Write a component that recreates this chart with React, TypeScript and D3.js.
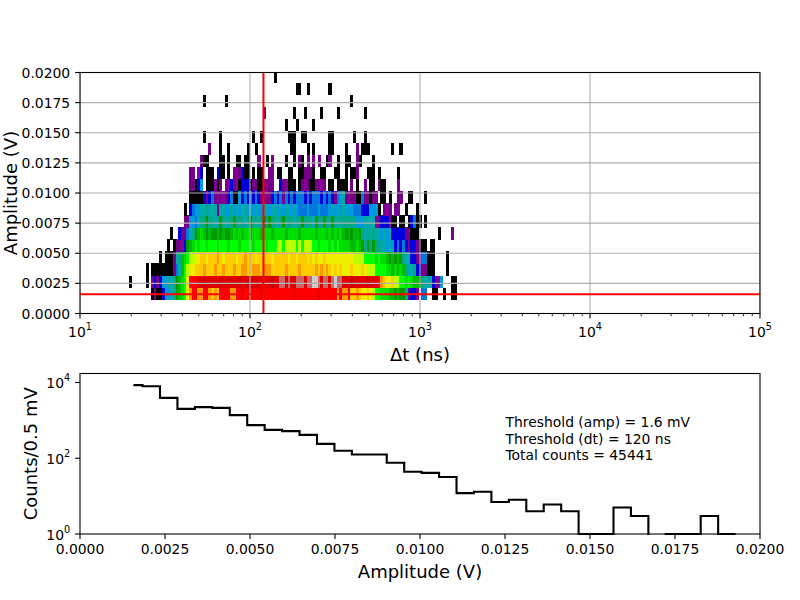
import * as d3 from "d3";

type Seg = [number, string];

// thresholds drawn as red lines
const ampThreshold = 0.0016; // V
const dtThreshold = 120; // ns

// 2D histogram: dt bins are uniform in log10(dt), first column starts at dtLogStart
const dtLogStart = 1.273;
const dtLogStep = 0.016064;
const ampEdges2d = [
  0.00115, 0.00215, 0.00315, 0.00415, 0.00515, 0.00615, 0.00715, 0.00815, 0.00915, 0.01015,
  0.01115, 0.01215, 0.01315, 0.01415, 0.01515, 0.01615, 0.01715, 0.01815, 0.01915, 0.02015,
];

// colour level of every cell (nipy_spectral, log counts), bottom row first
// '.' empty, '0'..'j' = level 0..19 (x0.05), 'k' = 0.975, 'l' = 1 (max)
const row00: Seg[] = [[9, "0100466789"], [19, "abc"], [22, "eghhgghhgf"], [32, "gfhhhhgg"], [40, "hhihhhhhhi"], [50, "hhhhhhhhhh"], [60, "hihhhhhhhh"], [70, "ihhhhhh"], [77, "ghggh"], [82, "ffgfeefed"], [91, "ccbbbaa9a9"], [101, "9"], [102, "81441.55"], [112, "00"], [116, "0"], [119, "00"]];
const row01: Seg[] = [[1, "0"], [7, "0"], [9, "1414667789"], [19, "abce"], [23, "hhhiijiiii"], [33, "ijiiiiiiii"], [43, "ijiiiiiiii"], [53, "ji"], [55, "ikkikiikkk"], [65, "ikkllkikki"], [75, "klkki"], [80, "iijiiiiijii"], [91, "ihgfeefddc"], [101, "cbcbaa9878"], [111, "7412"], [115, "6"], [119, "00"]];
const row02: Seg[] = [[7, "0"], [9, "00000000"], [17, "157acdee"], [25, "fffgfffgff"], [35, "gfffgffggf"], [45, "fgggfgggff"], [55, "fffgffffgf"], [65, "ffffgfgfgf"], [75, "efefe"], [80, "eefeeefedd"], [90, "d"], [91, "ccccbbabab"], [101, "a8778441100"], [112, "0"], [117, "0"]];
const row03: Seg[] = [[12, "0"], [14, "000"], [17, "178abcddee"], [27, "ffefffgfef"], [37, "fffeffgfff"], [47, "efffffefff"], [57, "ffeffefffe"], [67, "fefeefeee"], [76, "eeeeeee"], [83, "dddd"], [87, "ccc"], [90, "cbcbba9a9a"], [100, "9877441155"], [110, "000"], [117, "0"]];
const row04: Seg[] = [[15, "0"], [17, "01124"], [22, "9ab"], [25, "cbccbcccbc"], [35, "ccbcccbccc"], [45, "cbccccbccc"], [55, "ddcddddcdc"], [65, "dddccbcccb"], [75, "cbcbb"], [80, "bbaaba9898"], [90, "9887767645"], [100, "4541441000"], [111, "00"]];
const row05: Seg[] = [[16, "0"], [19, "411578"], [25, "9a"], [27, "ba9a99a9a9"], [37, "9abababbab"], [47, "bbabbbabbb"], [57, "babbbbabbb"], [67, "bbabbbabab"], [77, "aba"], [80, "9a9aa98787"], [90, "8776767444"], [100, "4411000"], [114, "0"], [119, "1"]];
const row06: Seg[] = [[21, "1166578898"], [31, "8789878898"], [41, "8878988789"], [51, "8988789888"], [61, "7889888798"], [71, "898898788"], [80, "8888666777"], [90, "721444200."], [100, "00.04500.0"]];
const row07: Seg[] = [[21, "0"], [23, "4566778777"], [33, "1776"], [37, "6767677676"], [47, "7667767767"], [57, "6776765556"], [67, "5556555676"], [77, "767"], [80, "6665554446"], [90, "660.121.11"], [102, "0"], [106, "0"]];
const row08: Seg[] = [[23, "0000041451"], [33, "2121450064"], [43, "5454541211"], [53, "4545154545"], [63, "5545455545"], [73, "4541567"], [80, "1211005110"], [90, "11.00.0..1"], [100, "1..00....0"]];
const row09: Seg[] = [[23, "11046.0002"], [33, "01.1241204"], [43, "4401100121"], [53, "1..412000."], [63, "0121001121"], [73, ".00.000"], [80, "0.1.0..1.0"], [90, "0.100....1"]];
const row10: Seg[] = [[23, "11.24.000."], [33, "400.0.1214"], [43, "00.0.00..1"], [53, "1.00..00.."], [63, "001110..00"], [73, "...00.."], [80, "0.001...00"], [90, "0.0......0"]];
const row11: Seg[] = [[27, "100....00."], [37, "0..00.00.."], [47, ".1..0.1..."], [57, ".0..0.10.1"], [67, ".1.1..01.."], [77, "0..00..10."], [87, "...0"]];
const row12: Seg[] = [[30, "1"], [34, "0"], [37, "0"], [44, "0"], [47, "0"], [60, "00"], [66, "0"], [68, "0"], [74, "00"], [80, "0"], [84, "1"], [86, "000"], [97, "0"], [100, "0"]];
const row13: Seg[] = [[28, "0"], [34, "0"], [46, "0"], [49, "0"], [59, "000"], [64, "00"], [74, "00"], [83, "0"], [87, "0"]];
const row14: Seg[] = [[58, "0"], [62, "0"], [68, "0"]];
const row15: Seg[] = [[50, "1"], [61, "0"], [65, "0"], [71, "0"], [77, "0"], [87, "0"]];
const row16: Seg[] = [[28, "0"], [36, "0"], [82, "0"]];
const row17: Seg[] = [[62, "00"], [66, "0"], [74, "0"]];
const row18: Seg[] = [[54, "0"]];
const histRows = [row00, row01, row02, row03, row04, row05, row06, row07, row08, row09, row10, row11, row12, row13, row14, row15, row16, row17, row18];

// 1D amplitude histogram
const ampEdges = [
  0.00157, 0.00184, 0.002353, 0.002866, 0.003379, 0.003892, 0.004405, 0.004918, 0.005431, 0.005944,
  0.006457, 0.00697, 0.007483, 0.007996, 0.008509, 0.009022, 0.009535, 0.010048, 0.010561, 0.011074,
  0.011587, 0.0121, 0.012613, 0.013126, 0.013639, 0.014152, 0.014665, 0.015178, 0.015691, 0.016204,
  0.016717, 0.01723, 0.017743, 0.018256, 0.018769, 0.019282,
];
const ampCounts = [
  8490, 7980, 3930, 2014, 2230, 2140, 1371, 747, 562, 519,
  414, 240, 157, 126, 126, 76, 44, 41, 32, 12,
  13, 7, 8, 4, 6, 4, 1, 1, 5, 3,
  0, 1, 1, 3, 1,
];

const ampTicks = [0, 0.0025, 0.005, 0.0075, 0.01, 0.0125, 0.015, 0.0175, 0.02];
const dtMajorTicks = [10, 100, 1000, 10000, 100000];
const countTicks = [1, 100, 10000];
const infoLines = ["Threshold (amp) = 1.6 mV", "Threshold (dt) = 120 ns", "Total counts = 45441"];

// nipy_spectral colour stops
const spectralStops = [
  "#000000", "#770088", "#880099", "#0000aa", "#0000dd", "#0077dd", "#0099dd", "#00aaaa", "#00aa88", "#009900",
  "#00bb00", "#00dd00", "#00ff00", "#bbff00", "#eeee00", "#ffcc00", "#ff9900", "#ff0000", "#dd0000", "#cc0000", "#cccccc",
];
const spectral = d3.piecewise(d3.interpolateRgb, spectralStops);
const levelChars = "0123456789abcdefghij";
const levelT = (ch: string) => (ch === "k" ? 0.975 : ch === "l" ? 1 : levelChars.indexOf(ch) / 20);

const font = "DejaVu Sans";
const tickFs = 13.9;
const labelFs = 18;
const TL = 4.9; // tick length

export default function App() {
  const topBox = { l: 80, r: 760, t: 72.5, b: 313.5 };
  const botBox = { l: 80, r: 760, t: 373.5, b: 534 };

  const xDt = d3.scaleLog().domain([10, 1e5]).range([topBox.l, topBox.r]);
  const yAmp = d3.scaleLinear().domain([0, 0.02]).range([topBox.b, topBox.t]);
  const xAmp = d3.scaleLinear().domain([0, 0.02]).range([botBox.l, botBox.r]);
  const yCnt = d3.scaleLog().domain([1, 17260]).range([botBox.b, botBox.t]);

  const cells: { x0: number; x1: number; y0: number; y1: number; fill: string }[] = [];
  histRows.forEach((segs, r) => {
    segs.forEach(([start, codes]) => {
      codes.split("").forEach((ch, j) => {
        if (ch === ".") return;
        const col = start + j;
        const lo = Math.pow(10, dtLogStart + col * dtLogStep);
        const hi = Math.pow(10, dtLogStart + (col + 1) * dtLogStep);
        cells.push({
          x0: xDt(lo),
          x1: xDt(hi),
          y0: yAmp(ampEdges2d[r + 1]),
          y1: yAmp(ampEdges2d[r]),
          fill: spectral(levelT(ch)),
        });
      });
    });
  });

  const minorDt: number[] = [];
  for (let k = 1; k < 5; k++) for (let m = 2; m < 10; m++) minorDt.push(m * Math.pow(10, k));

  const stepPts: [number, number][] = [];
  ampCounts.forEach((c, i) => {
    const v = c > 0 ? c : 0.01;
    stepPts.push([xAmp(ampEdges[i]), yCnt(v)]);
    stepPts.push([xAmp(ampEdges[i + 1]), yCnt(v)]);
  });
  const stepPath = d3.line()(stepPts) as string;

  const gridColor = "#b0b0b0";

  return (
    <svg
      width={800}
      height={600}
      style={{ position: "absolute", left: 0, top: 0, background: "#fff" }}
      fontFamily={font}
    >
      <defs>
        <clipPath id="clipTop">
          <rect x={topBox.l} y={topBox.t} width={topBox.r - topBox.l} height={topBox.b - topBox.t} />
        </clipPath>
        <clipPath id="clipBot">
          <rect x={botBox.l} y={botBox.t} width={botBox.r - botBox.l} height={botBox.b - botBox.t + 1} />
        </clipPath>
      </defs>
      <rect width={800} height={600} fill="#fff" />

      {/* ---------- top: 2D histogram ---------- */}
      <g clipPath="url(#clipTop)">
        <g shapeRendering="crispEdges">
          {cells.map((c, i) => (
            <rect key={i} x={c.x0} y={c.y0} width={c.x1 - c.x0 + 0.3} height={c.y1 - c.y0 + 0.3} fill={c.fill} />
          ))}
        </g>
        {ampTicks.map((t) => (
          <line key={"gy" + t} x1={topBox.l} x2={topBox.r} y1={yAmp(t)} y2={yAmp(t)} stroke={gridColor} strokeWidth={1.1} />
        ))}
        {dtMajorTicks.map((t) => (
          <line key={"gx" + t} x1={xDt(t)} x2={xDt(t)} y1={topBox.t} y2={topBox.b} stroke={gridColor} strokeWidth={1.1} />
        ))}
        <line x1={topBox.l} x2={topBox.r} y1={yAmp(ampThreshold)} y2={yAmp(ampThreshold)} stroke="#ff0000" strokeWidth={2} />
        <line x1={xDt(dtThreshold)} x2={xDt(dtThreshold)} y1={topBox.t} y2={topBox.b} stroke="#ff0000" strokeWidth={2} />
      </g>
      <rect x={topBox.l} y={topBox.t} width={topBox.r - topBox.l} height={topBox.b - topBox.t} fill="none" stroke="#000" strokeWidth={1.1} />

      {ampTicks.map((t) => (
        <g key={"ty" + t}>
          <line x1={topBox.l - TL} x2={topBox.l} y1={yAmp(t)} y2={yAmp(t)} stroke="#000" strokeWidth={1.1} />
          <text x={topBox.l - 2 * TL} y={yAmp(t)} dy="0.36em" textAnchor="end" fontSize={tickFs}>
            {t.toFixed(4)}
          </text>
        </g>
      ))}
      {minorDt.map((t) => (
        <line key={"mx" + t} x1={xDt(t)} x2={xDt(t)} y1={topBox.b} y2={topBox.b + 2.8} stroke="#000" strokeWidth={0.8} />
      ))}
      {dtMajorTicks.map((t) => (
        <g key={"tx" + t}>
          <line x1={xDt(t)} x2={xDt(t)} y1={topBox.b} y2={topBox.b + TL} stroke="#000" strokeWidth={1.1} />
          <text x={xDt(t)} y={337} textAnchor="middle" fontSize={tickFs}>
            <tspan>10</tspan>
            <tspan dy={-6.7} fontSize={9.7}>{Math.round(Math.log10(t))}</tspan>
          </text>
        </g>
      ))}
      <text x={420} y={361} textAnchor="middle" fontSize={labelFs}>Δt (ns)</text>
      <text transform={`translate(17,${(topBox.t + topBox.b) / 2}) rotate(-90)`} textAnchor="middle" fontSize={labelFs}>
        Amplitude (V)
      </text>

      {/* ---------- bottom: amplitude spectrum ---------- */}
      <g clipPath="url(#clipBot)">
        <path d={stepPath} fill="none" stroke="#000" strokeWidth={2.1} strokeLinejoin="miter" />
      </g>
      <rect x={botBox.l} y={botBox.t} width={botBox.r - botBox.l} height={botBox.b - botBox.t} fill="none" stroke="#000" strokeWidth={1.1} />
      {ampTicks.map((t) => (
        <g key={"bx" + t}>
          <line x1={xAmp(t)} x2={xAmp(t)} y1={botBox.b} y2={botBox.b + TL} stroke="#000" strokeWidth={1.1} />
          <text x={xAmp(t)} y={553.8} textAnchor="middle" fontSize={tickFs}>
            {t.toFixed(4)}
          </text>
        </g>
      ))}
      {countTicks.map((t) => (
        <g key={"by" + t}>
          <line x1={botBox.l - TL} x2={botBox.l} y1={yCnt(t)} y2={yCnt(t)} stroke="#000" strokeWidth={1.1} />
          <text x={botBox.l - 2 * TL} y={yCnt(t) + 5.5} textAnchor="end" fontSize={tickFs}>
            <tspan>10</tspan>
            <tspan dy={-6.7} fontSize={9.7}>{Math.round(Math.log10(t))}</tspan>
          </text>
        </g>
      ))}
      <text x={420} y={578} textAnchor="middle" fontSize={labelFs}>Amplitude (V)</text>
      <text transform={`translate(37,${(botBox.t + botBox.b) / 2}) rotate(-90)`} textAnchor="middle" fontSize={labelFs}>
        Counts/0.5 mV
      </text>
      {infoLines.map((s, i) => (
        <text key={s} x={505.5} y={427 + i * 16.6} fontSize={tickFs}>
          {s}
        </text>
      ))}
    </svg>
  );
}
